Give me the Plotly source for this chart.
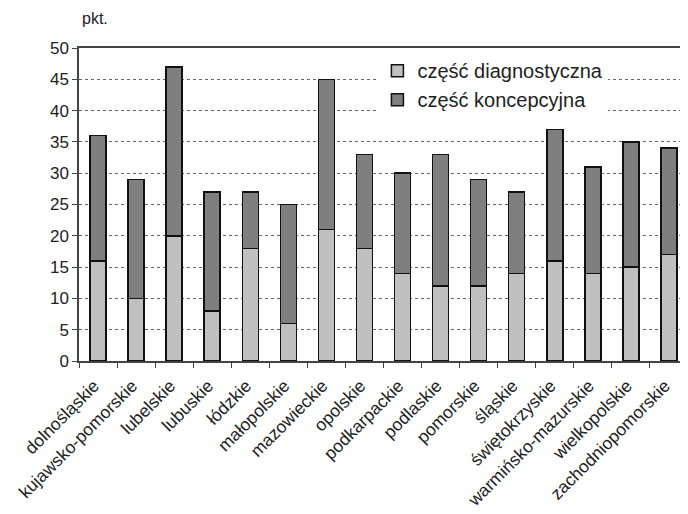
import plotly.graph_objects as go

regions = ["dolnośląskie", "kujawsko-pomorskie", "lubelskie", "lubuskie", "łódzkie",
           "małopolskie", "mazowieckie", "opolskie", "podkarpackie", "podlaskie",
           "pomorskie", "śląskie", "świętokrzyskie", "warmińsko-mazurskie",
           "wielkopolskie", "zachodniopomorskie"]
diagnostyczna = [16, 10, 20, 8, 18, 6, 21, 18, 14, 12, 12, 14, 16, 14, 15, 17]
koncepcyjna = [20, 19, 27, 19, 9, 19, 24, 15, 16, 21, 17, 13, 21, 17, 20, 17]
y_ticks = [0, 5, 10, 15, 20, 25, 30, 35, 40, 45, 50]

fig = go.Figure()
fig.add_trace(go.Bar(x=regions, y=diagnostyczna, name="część diagnostyczna", legendgroup="a",
                     marker=dict(color="#c0c0c0", line=dict(color="#111", width=1.5))))
fig.add_trace(go.Bar(x=regions, y=koncepcyjna, name="część koncepcyjna", legendgroup="b",
                     marker=dict(color="#7f7f7f", line=dict(color="#111", width=1.5))))

fig.update_layout(
    barmode="stack", bargap=0.58,
    width=688, height=514,
    margin=dict(l=57, r=8, t=40, b=161),
    paper_bgcolor="white", plot_bgcolor="white",
    font=dict(family="Liberation Sans, Arial, sans-serif", color="#222", size=14),
    showlegend=True,
    legend=dict(x=0.49, y=0.99, xanchor="left", yanchor="top",
                bgcolor="white", font=dict(size=20), traceorder="normal",
                itemwidth=30, tracegroupgap=7),
    xaxis=dict(tickangle=-45, tickfont=dict(size=17.5), showline=True, linecolor="#444",
               linewidth=1.5, mirror=True, ticks="outside", tickson="boundaries",
               ticklen=5, tickcolor="#444", showgrid=False,
               ticklabelstandoff=6, ticklabelshift=-4),
    yaxis=dict(range=[0, 50], tickvals=y_ticks, tickfont=dict(size=17),
               showline=True, linecolor="#444", linewidth=1.5, ticks="outside",
               ticklen=5, tickcolor="#444", showgrid=True, gridcolor="#666",
               griddash="dot", gridwidth=1, zeroline=False),
    annotations=[dict(text="pkt.", xref="paper", yref="paper", x=0.026, y=1.093,
                      xanchor="center", yanchor="middle", showarrow=False,
                      font=dict(size=16))],
)
fig.write_html("out.html")
